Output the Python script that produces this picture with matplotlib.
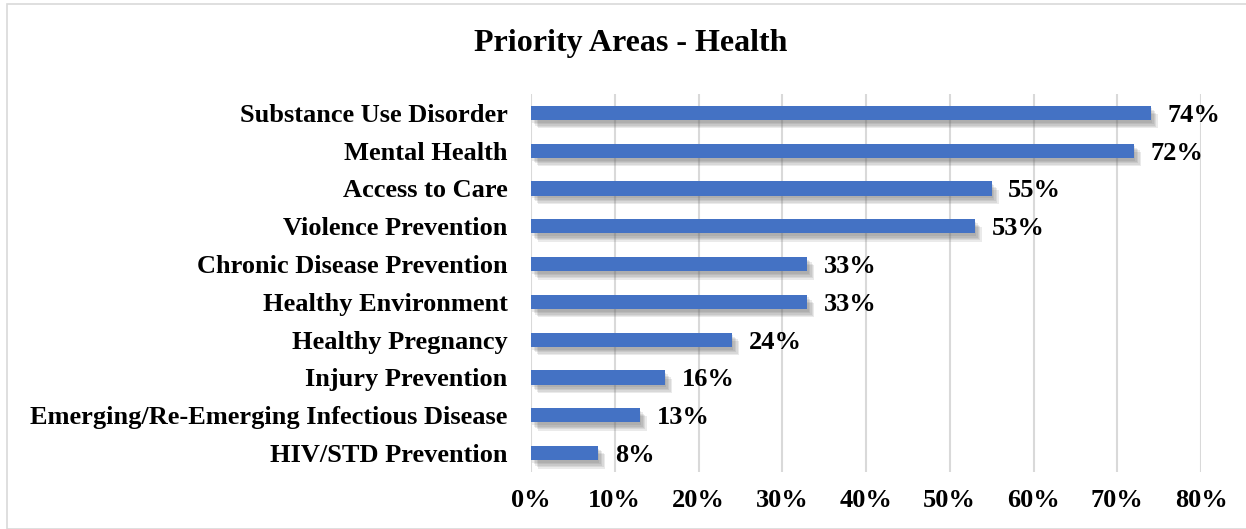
import matplotlib.pyplot as plt
import matplotlib.patheffects as pe
from matplotlib.patches import Rectangle
import numpy as np

categories = ['Substance Use Disorder', 'Mental Health', 'Access to Care',
              'Violence Prevention', 'Chronic Disease Prevention',
              'Healthy Environment', 'Healthy Pregnancy', 'Injury Prevention',
              'Emerging/Re-Emerging Infectious Disease', 'HIV/STD Prevention']
values = [74, 72, 55, 53, 33, 33, 24, 16, 13, 8]
xticks = [0, 10, 20, 30, 40, 50, 60, 70, 80]

plt.rcParams['font.family'] = ['Liberation Serif', 'DejaVu Serif']
plt.rcParams['font.weight'] = 'bold'

fig = plt.figure(figsize=(12.46, 5.29), dpi=100)
fig.patches.append(Rectangle((7 / 1246, 0), 1.0, 1 - 4 / 529, transform=fig.transFigure,
                             fill=False, edgecolor='#d9d9d9', linewidth=1.2))

ax = fig.add_axes([531 / 1246, 57 / 529, 670 / 1246, 378 / 529])
y = np.arange(len(categories))
bars = ax.barh(y, values, height=0.38, color='#4472c4', zorder=3)
# soft drop shadow, built from a few faint offset copies
shadow = [pe.SimplePatchShadow(offset=(d, -d - 1), shadow_rgbFace='#606060', alpha=0.13)
          for d in (1, 2, 3, 4, 5)]
for b in bars:
    b.set_path_effects(shadow + [pe.Normal()])

for yi, v in zip(y, values):
    ax.annotate(f'{v}%', (v, yi), xytext=(12, 0), textcoords='offset points',
                va='center_baseline', ha='left', fontsize=19, fontweight='bold')

ax.set_xlim(0, 80)
ax.set_ylim(len(categories) - 0.5, -0.5)
ax.set_yticks(y)
ax.set_yticklabels(categories, fontsize=19, fontweight='bold', va='center_baseline')
ax.set_xticks(xticks)
ax.set_xticklabels([f'{t}%' for t in xticks], fontsize=19, fontweight='bold')
ax.tick_params(length=0)
ax.tick_params(axis='y', pad=17)
ax.tick_params(axis='x', pad=12)
ax.grid(axis='x', color='#d9d9d9', linewidth=1.5, zorder=0)
for s in ax.spines.values():
    s.set_visible(False)

fig.text(0.506, 1 - 44 / 529, 'Priority Areas - Health', ha='center', va='center',
         fontsize=23, fontweight='bold')

fig.savefig('out.png', dpi=100)
